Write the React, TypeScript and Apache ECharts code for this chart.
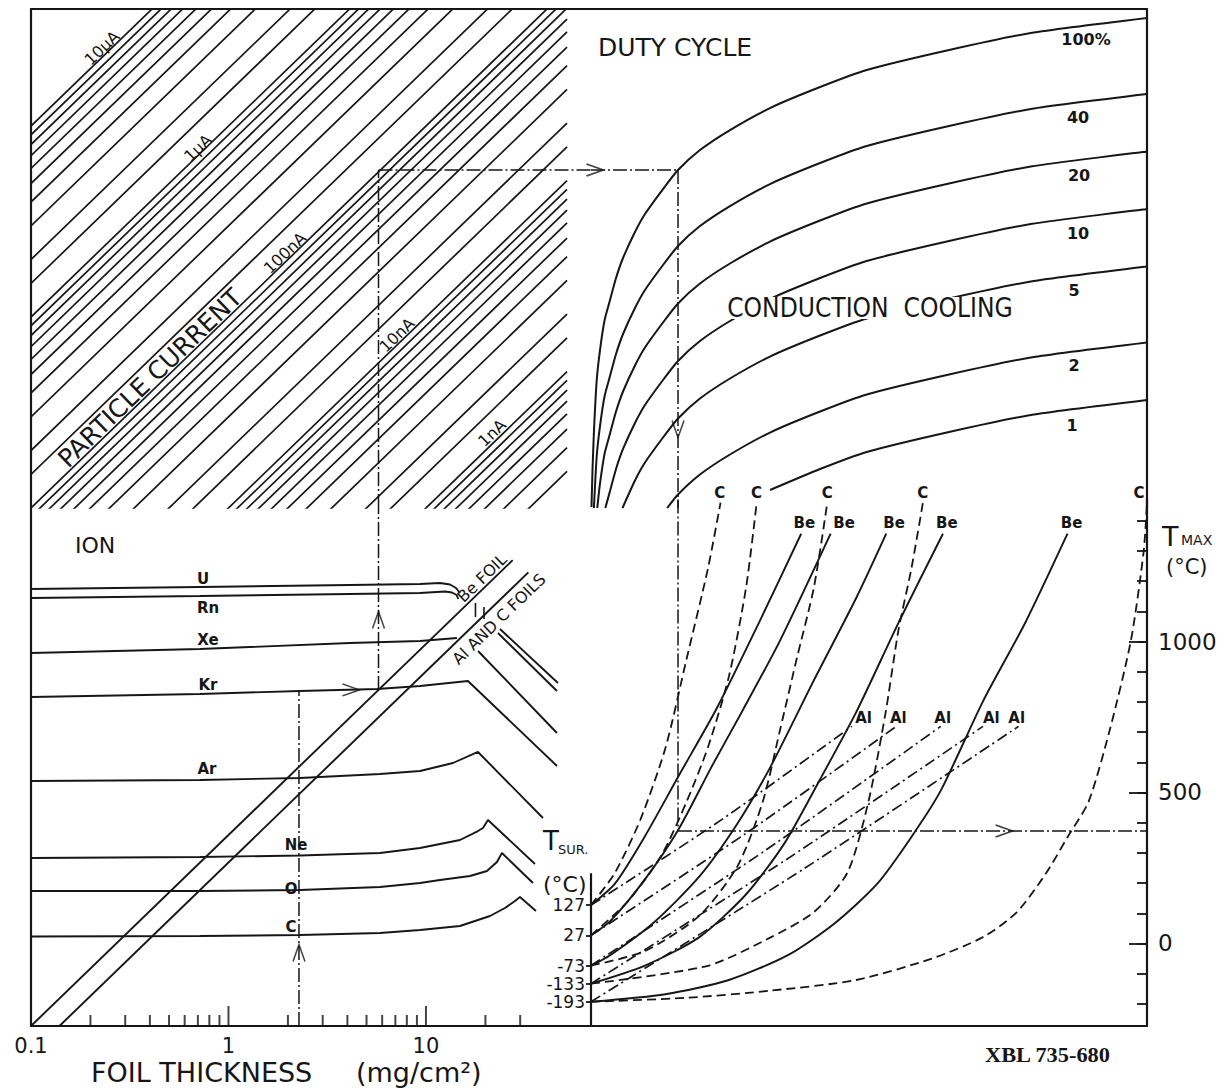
import React, { useEffect, useRef } from "react";
import * as echarts from "echarts";

const INK = "#161616";
const FONT = '"DejaVu Sans", "Noto Sans", sans-serif';

// ---------------- DATA ----------------
// Particle current lines of the top-left panel (nA)
const particleCurrentsNA = [
  10000, 9000, 8000, 7000, 6000, 5000, 4000, 3000, 2000, 1500,
  1000, 900, 800, 700, 600, 500, 400, 300, 200, 150,
  100, 90, 80, 70, 60, 50, 40, 30, 20, 15,
  10, 9, 8, 7, 6, 5, 4, 3, 2, 1.5,
  1, 0.9, 0.8, 0.7, 0.6, 0.5, 0.4, 0.3,
];

// Ion curves: [foil thickness mg/cm2, relative energy deposit]
const ionU = [[0.1, 194.1], [0.717, 198.8], [4.12, 203.6], [9.33, 206.1], [11.77, 208.6], [13.23, 204.8], [14.19, 196.4], [14.87, 184.9]];
const ionUTail = [[23.7, 119.8], [46.6, 62.5]];
const ionRn = [[0.1, 174.1], [0.717, 178.3], [4.12, 182.7], [9.33, 184.9], [12.48, 188.3], [13.54, 186.1], [14.3, 180.5], [14.57, 172.0]];
const ionRnTail = [[23.15, 114.2], [46.06, 56.74]];
const ionXe = [[0.1, 89.73], [0.717, 94.14], [4.12, 101.2], [9.33, 103.7], [14.35, 107.5]];
const ionXeTail = [[18.34, 91.92], [46.06, 34.2]];
const ionKr = [[0.1, 52.79], [0.717, 54.73], [2.3, 56.74], [5.65, 58.13], [9.33, 60.27], [16.32, 64.01], [46.06, 22.98]];
const ionAr = [[0.1, 19.18], [0.717, 19.41], [2.3, 19.88], [5.85, 20.86], [9.33, 21.63], [13.7, 23.82], [18.34, 27.2], [39.13, 12.27]];
const ionNe = [[0.1, 7.58], [0.717, 7.671], [2.3, 7.811], [5.85, 8.05], [9.33, 8.551], [14.87, 9.415], [18.34, 10.49], [19.44, 10.88], [20.6, 11.98], [35.64, 7.05]];
const ionO = [[0.1, 5.092], [0.717, 5.092], [2.3, 5.153], [5.85, 5.343], [9.33, 5.608], [11.77, 5.813], [16.71, 6.1], [20.37, 6.478], [22.88, 7.223], [24.25, 8.05], [34.82, 5.608]];
const ionC = [[0.1, 2.941], [0.717, 2.959], [2.3, 2.995], [5.85, 3.069], [9.33, 3.181], [14.87, 3.339], [21.09, 3.767], [25.12, 4.148], [28.23, 4.512], [29.92, 4.737], [36.06, 4.0]];
const ionNames = ["U", "Rn", "Xe", "Kr", "Ar", "Ne", "O", "C"];

// Foil conversion lines
const beFoilLine = [[0.1, 1], [27.5, 275]];
const alCFoilLine = [[0.1393, 1], [33, 237]];
const foilMarks1 = [[17.81, 163.9], [17.81, 138.5]];
const foilMarks2 = [[19.67, 156.2], [19.67, 135.2]];

// Duty-cycle curves: [heat load (relative), power]
const dutyLabels = ["100%", "40", "20", "10", "5", "2", "1"];
const duty100 = [[0.09, 1.012], [0.27, 1.581], [0.54, 2.561], [1.03, 4.679], [1.62, 6.718], [2.45, 9.645], [3.42, 12.27], [4.5, 16.0], [5.76, 20.37], [7.91, 27.87], [9.71, 34.62], [12.95, 46.79], [15.65, 58.85], [19.6, 74.87], [25.0, 95.3], [32.2, 124.2], [41.2, 160.0], [49.6, 196.5], [64.4, 250.0], [79.1, 306.9], [100, 367.6]];
const duty40 = [[0.52, 1.0], [1.03, 1.872], [1.62, 2.687], [2.45, 3.858], [3.42, 4.908], [4.5, 6.4], [5.76, 8.148], [7.91, 11.15], [9.71, 13.85], [12.95, 18.72], [15.65, 23.54], [19.6, 29.95], [25.0, 38.12], [32.2, 49.68], [41.2, 64.0], [49.6, 78.6], [64.4, 100.0], [79.1, 122.8], [100, 147.0]];
const duty20 = [[1.13, 1.0], [1.62, 1.344], [2.45, 1.929], [3.42, 2.454], [4.5, 3.2], [5.76, 4.074], [7.91, 5.574], [9.71, 6.924], [12.95, 9.358], [15.65, 11.77], [19.6, 14.97], [25.0, 19.06], [32.2, 24.84], [41.2, 32.0], [49.6, 39.3], [64.4, 50.0], [79.1, 61.38], [100, 73.52]];
const duty10 = [[2.58, 1.0], [3.42, 1.227], [4.5, 1.6], [5.76, 2.037], [7.91, 2.787], [9.71, 3.462], [12.95, 4.679], [15.65, 5.885], [19.6, 7.487], [25.0, 9.53], [32.2, 12.42], [41.2, 16.0], [49.6, 19.65], [64.4, 25.0], [79.1, 30.69], [100, 36.76]];
const duty5 = [[5.66, 1.0], [7.91, 1.394], [9.71, 1.731], [12.95, 2.34], [15.65, 2.943], [19.6, 3.744], [25.0, 4.765], [32.2, 6.21], [41.2, 8.0], [49.6, 9.825], [64.4, 12.5], [79.1, 15.35], [100, 18.38]];
const duty2 = [[13.7, 1.0], [15.65, 1.177], [19.6, 1.497], [25.0, 1.906], [32.2, 2.484], [41.2, 3.2], [49.6, 3.93], [64.4, 5.0], [79.1, 6.138], [100, 7.352]];
const duty1 = [[32.2, 1.242], [41.2, 1.6], [49.6, 1.965], [64.4, 2.5], [79.1, 3.069], [100, 3.676]];

// T_MAX curves: [heat load (relative), T_MAX degC], one per T_SUR (127, 27, -73, -133, -193)
const cFoil127 = [[0, 127], [4.3, 234], [8.9, 411], [13.4, 648], [17.2, 943], [21.0, 1239], [23.3, 1460]];
const cFoil27 = [[0, 27], [6.6, 139], [12.7, 293], [17.2, 470], [21.0, 648], [24.8, 884], [27.9, 1180], [29.8, 1460]];
const cFoilM73 = [[0, -73], [9.6, -26], [19.5, 92], [26.4, 258], [30.9, 470], [34.0, 707], [37.0, 943], [40.1, 1180], [42.5, 1460]];
const cFoilM133 = [[0, -133], [21.0, -74], [32.4, 21], [40.1, 104], [46.1, 234], [49.9, 470], [53.0, 766], [55.3, 1038], [57.6, 1239], [59.7, 1460]];
const cFoilM193 = [[0, -193], [17.2, -180], [32.4, -156], [47.7, -121], [61.3, -50], [70.5, 21], [76.6, 104], [81.9, 234], [85.7, 352], [89.5, 470], [93.3, 707], [97.1, 1003], [99.4, 1298], [100, 1460]];
const beFoil127 = [[0, 127], [4.3, 198], [9.6, 352], [15.7, 553], [22.6, 778], [30.2, 1062], [37.8, 1357]];
const beFoil27 = [[0, 27], [3.5, 75], [9.6, 210], [15.65, 375], [21.8, 589], [27.1, 766], [34.0, 1003], [43.1, 1357]];
const beFoilM73 = [[0, -74], [3.5, -38], [11.2, 68], [19.5, 222], [26.4, 399], [32.4, 589], [40.1, 872], [47.7, 1144], [53.1, 1357]];
const beFoilM133 = [[0, -133], [9.6, -74], [19.5, 21], [27.9, 163], [34.7, 329], [40.8, 530], [47.7, 766], [55.3, 1062], [63.3, 1357]];
const beFoilM193 = [[0, -193], [13.4, -168], [24.8, -121], [35.5, -38], [43.9, 68], [51.5, 198], [57.6, 352], [62.9, 506], [70.5, 802], [78.1, 1062], [85.7, 1357]];
const alFoil127 = [[0, 127], [23.5, 410], [46.9, 719]];
const alFoil27 = [[0, 27], [27.5, 360], [54.9, 719]];
const alFoilM73 = [[0, -73], [31.5, 310], [62.9, 719]];
const alFoilM133 = [[0, -133], [35.3, 280], [70.5, 719]];
const alFoilM193 = [[0, -193], [38.5, 250], [76.9, 719]];

// Worked example (dash-dot guide)
const guideBLUp = [[2.275, 1], [2.275, 56.74]];
const guideBLRise = [[5.75, 57.5], [5.75, 515.2]];
const guideTLRise = [[5.75, 1], [5.75, 58.85]];
const guideTLAcross = [[5.75, 58.85], [68.5, 58.85]];
const guideTRAcross = [[0, 58.85], [15.65, 58.85]];
const guideTRDown = [[15.65, 58.85], [15.65, 1]];
const guideBRDown = [[15.65, 1470], [15.65, 372.5]];
const guideBRAcross = [[15.65, 372.5], [100, 372.5]];
const arrowsBL = [[2.275, 2.41, 90], [4.17, 57.5, 0], [5.75, 133.6, 90]];
const arrowsTR = [[0.72, 58.85, 0], [15.65, 2.59, -90]];
const arrowsBR = [[74.3, 372.5, 0]];

// Axis ticks
const foilMinorTicks = [0.2, 0.3, 0.4, 0.5, 0.6, 0.7, 0.8, 0.9, 2, 3, 4, 5, 6, 7, 8, 9, 20, 30];
const foilMajorTicks = [1, 10];
const tSurTicks = [127, 27, -73, -133, -193];
const tMaxMinorTicks = [-200, -100, 0, 100, 200, 300, 400, 500, 600, 700, 800, 900, 1000, 1100, 1200, 1300, 1400];
const tMaxMajorTicks = [0, 500, 1000];

// ---------------- OPTION ----------------
function line(data: any[], xi: number, yi: number, o: any = {}) {
  return {
    type: "line",
    data,
    xAxisIndex: xi,
    yAxisIndex: yi,
    symbol: "none",
    showSymbol: false,
    silent: true,
    clip: true,
    smooth: o.smooth ?? false,
    z: o.z ?? 3,
    lineStyle: { color: INK, width: o.w ?? 1.9, type: o.dash ?? "solid" },
    emphasis: { disabled: true },
    animation: false,
  };
}

const ARROW = "path://M0,0 L20,7 L0,14";
function arrows(list: number[][], xi: number, yi: number) {
  return {
    type: "scatter",
    xAxisIndex: xi,
    yAxisIndex: yi,
    silent: true,
    symbol: ARROW,
    symbolSize: [17, 12],
    itemStyle: { color: "rgba(0,0,0,0)", borderColor: INK, borderWidth: 1.7 },
    data: list.map((a) => ({ value: [a[0], a[1]], symbolRotate: a[2] })),
    z: 6,
    animation: false,
  };
}

function ticks(list: number[], base: number, len: number) {
  return {
    type: "scatter",
    xAxisIndex: 1,
    yAxisIndex: 1,
    silent: true,
    symbol: "rect",
    symbolSize: [2, len],
    symbolOffset: [0, -len / 2],
    itemStyle: { color: INK },
    data: list.map((v) => [v, base]),
    z: 5,
    animation: false,
  };
}

const axisOff = { show: false };
const frameLine = { show: true, onZero: false, lineStyle: { color: INK, width: 2.2 } };

function buildOption() {
  const series: any[] = [];
  // hatch lines: power = current x energy loss
  particleCurrentsNA.forEach((I) => {
    series.push(line([[0.01, (I * 0.01) / 10], [51.8, (I * 51.8) / 10]], 0, 0, { w: 1.7 }));
  });
  // ions
  [ionU, ionUTail, ionRn, ionRnTail, ionXe, ionXeTail, ionKr, ionAr, ionNe, ionO, ionC].forEach((d) =>
    series.push(line(d, 1, 1, { w: 1.9 }))
  );
  series.push(line(beFoilLine, 1, 1, { w: 1.9 }));
  series.push(line(alCFoilLine, 1, 1, { w: 1.9 }));
  series.push(line(foilMarks1, 1, 1, { w: 1.6 }));
  series.push(line(foilMarks2, 1, 1, { w: 1.6 }));
  series.push(ticks(foilMinorTicks, 1, 11));
  series.push(ticks(foilMajorTicks, 1, 20));
  // duty cycle
  [duty100, duty40, duty20, duty10, duty5, duty2, duty1].forEach((d) =>
    series.push(line(d, 2, 2, { w: 2, smooth: 0.2 }))
  );
  // T_MAX curves
  const dashC = [9, 5];
  const dashAl = [11, 4, 2, 4];
  [cFoil127, cFoil27, cFoilM73, cFoilM133, cFoilM193].forEach((d) =>
    series.push(line(d, 3, 3, { w: 1.8, dash: dashC, smooth: 0.25 }))
  );
  [beFoil127, beFoil27, beFoilM73, beFoilM133, beFoilM193].forEach((d) =>
    series.push(line(d, 3, 3, { w: 1.9, smooth: 0.25 }))
  );
  [alFoil127, alFoil27, alFoilM73, alFoilM133, alFoilM193].forEach((d) =>
    series.push(line(d, 3, 3, { w: 1.7, dash: dashAl, smooth: 0.25 }))
  );
  // guide
  const dashG = [14, 3, 2, 3];
  series.push(line(guideBLUp, 1, 1, { w: 1.5, dash: dashG }));
  series.push(line(guideBLRise, 1, 1, { w: 1.5, dash: dashG }));
  series.push(line(guideTLRise, 0, 0, { w: 1.5, dash: dashG }));
  series.push(line(guideTLAcross, 0, 0, { w: 1.5, dash: dashG }));
  series.push(line(guideTRAcross, 2, 2, { w: 1.5, dash: dashG }));
  series.push(line(guideTRDown, 2, 2, { w: 1.5, dash: dashG }));
  series.push(line(guideBRDown, 3, 3, { w: 1.5, dash: dashG }));
  series.push(line(guideBRAcross, 3, 3, { w: 1.5, dash: dashG }));
  series.push(arrows(arrowsBL, 1, 1));
  series.push(arrows(arrowsTR, 2, 2));
  series.push(arrows(arrowsBR, 3, 3));

  // texts
  const g: any[] = [];
  const add = (text: string, x: number, y: number, size: number, o: any = {}) => {
    const align = o.align || "center";
    g.push({
      type: "text",
      x,
      y,
      rotation: ((o.rot || 0) * Math.PI) / 180,
      scaleX: o.sx || 1,
      z: 50,
      silent: true,
      style: {
        text,
        fill: INK,
        fontSize: size,
        fontFamily: o.family || FONT,
        fontWeight: o.weight || "normal",
        textAlign: align,
        textVerticalAlign: "middle",
        align,
        verticalAlign: "middle",
        lineHeight: o.lh,
        backgroundColor: o.bg,
        padding: o.bg ? [0, 6] : undefined,
      },
    });
  };
  add("10μA", 102, 48, 16, { rot: 44 });
  add("1μA", 198, 148, 16, { rot: 44 });
  add("100nA", 285, 253, 16, { rot: 44 });
  add("10nA", 397, 335, 16, { rot: 44 });
  add("1nA", 492, 433, 16, { rot: 44 });
  add("PARTICLE CURRENT", 150, 378, 25, { rot: 44 });
  add("DUTY CYCLE", 598, 47.5, 25, { align: "left" });
  add("CONDUCTION  COOLING", 722, 308, 27, { align: "left", sx: 0.87, bg: "#ffffff", lh: 22 });
  const dutyPos = [[1086, 39], [1078, 117], [1079, 175], [1078, 233], [1074, 290], [1074, 365], [1072, 425]];
  dutyLabels.forEach((t, i) => add(t, dutyPos[i][0], dutyPos[i][1], 16, { weight: "bold" }));
  add("ION", 75, 545, 22, { align: "left" });
  const ionPos = [[203, 579], [208, 608], [208, 640], [208, 685], [207, 769], [296, 845], [291, 889], [291, 927]];
  ionNames.forEach((t, i) => add(t, ionPos[i][0], ionPos[i][1], 15, { weight: "bold" }));
  add("Be FOIL", 482, 578, 16, { rot: 44 });
  add("Al AND C FOILS", 499, 619, 16, { rot: 44 });
  add("FOIL THICKNESS", 91, 1072, 27, { align: "left" });
  add("(mg/cm²)", 356, 1072, 27, { align: "left" });
  add("T", 543, 841, 26, { align: "left" });
  add("SUR.", 558, 849, 13, { align: "left" });
  add("(°C)", 543, 884.5, 22, { align: "left" });
  add("T", 1162, 536, 27, { align: "left" });
  add("MAX", 1181, 540, 14, { align: "left" });
  add("(°C)", 1166, 566.6, 21, { align: "left" });
  add("XBL 735-680", 985, 1055, 20, { align: "left", family: '"Liberation Serif", serif', weight: "bold", sx: 1.12 });
  [719.8, 756.6, 827.2, 922.8, 1139].forEach((x) => add("C", x, 492.5, 15, { weight: "bold" }));
  [804.4, 844.1, 894, 946.9, 1071.6].forEach((x) => add("Be", x, 523, 15, { weight: "bold" }));
  [863.6, 898.3, 942.7, 991.3, 1016.7].forEach((x) => add("Al", x, 717.5, 15, { weight: "bold" }));

  return {
    animation: false,
    backgroundColor: "#ffffff",
    grid: [
      { left: 31, top: 9, width: 560, height: 499, containLabel: false, outerBoundsMode: "none" },
      { left: 31, top: 508, width: 560, height: 518, containLabel: false, outerBoundsMode: "none" },
      { left: 591, top: 9, width: 556, height: 499, containLabel: false, outerBoundsMode: "none" },
      { left: 591, top: 499.6, width: 556, height: 526.3, containLabel: false, outerBoundsMode: "none" },
      { left: 591, top: 874, width: 10, height: 152, containLabel: false, outerBoundsMode: "none" },
    ],
    xAxis: [
      { gridIndex: 0, type: "log", logBase: 10, min: 0.1, max: 68.5, position: "top", axisLine: frameLine, axisTick: axisOff, axisLabel: axisOff, splitLine: axisOff },
      {
        gridIndex: 1, type: "log", logBase: 10, min: 0.1, max: 68.5, position: "bottom", axisLine: frameLine, axisTick: axisOff,
        axisLabel: { show: true, color: INK, fontSize: 21, fontFamily: FONT, margin: 9, showMaxLabel: false, formatter: (v: number) => (v < 0.5 ? "0.1" : String(Math.round(v))) },
        splitLine: axisOff,
      },
      { gridIndex: 2, type: "value", min: 0, max: 100, position: "top", axisLine: frameLine, axisTick: axisOff, axisLabel: axisOff, splitLine: axisOff },
      { gridIndex: 3, type: "value", min: 0, max: 100, position: "bottom", axisLine: frameLine, axisTick: axisOff, axisLabel: axisOff, splitLine: axisOff },
      { gridIndex: 4, type: "value", min: 0, max: 1, show: false },
    ],
    yAxis: [
      { gridIndex: 0, type: "log", logBase: 10, min: 1, max: 410, position: "left", axisLine: frameLine, axisTick: axisOff, axisLabel: axisOff, splitLine: axisOff },
      { gridIndex: 1, type: "log", logBase: 10, min: 1, max: 515.2, position: "left", axisLine: frameLine, axisTick: axisOff, axisLabel: axisOff, splitLine: axisOff },
      { gridIndex: 2, type: "log", logBase: 10, min: 1, max: 410, position: "right", axisLine: frameLine, axisTick: axisOff, axisLabel: axisOff, splitLine: axisOff },
      {
        gridIndex: 3, type: "value", min: -273, max: 1470, position: "right", axisLine: frameLine,
        axisTick: { show: true, inside: true, length: 10, customValues: tMaxMinorTicks, lineStyle: { color: INK, width: 1.8 } },
        axisLabel: { show: true, inside: false, margin: 11, color: INK, fontSize: 23, fontFamily: FONT, customValues: tMaxMajorTicks, formatter: (v: number) => String(v) },
        splitLine: axisOff,
      },
      {
        gridIndex: 3, type: "value", min: -273, max: 1470, position: "right", axisLine: { show: false, onZero: false },
        axisTick: { show: true, inside: true, length: 18, customValues: tMaxMajorTicks, lineStyle: { color: INK, width: 1.8 } },
        axisLabel: axisOff, splitLine: axisOff,
      },
      {
        gridIndex: 4, type: "value", min: -273, max: 230, position: "left", axisLine: frameLine,
        axisTick: { show: true, inside: false, length: 5, customValues: tSurTicks, lineStyle: { color: INK, width: 1.8 } },
        axisLabel: { show: true, margin: 6, color: INK, fontSize: 17, fontFamily: FONT, customValues: tSurTicks, formatter: (v: number) => String(v) },
        splitLine: axisOff,
      },
    ],
    series,
    graphic: { elements: g },
  };
}

export default function App() {
  const ref = useRef<HTMLDivElement>(null);
  useEffect(() => {
    document.body.style.margin = "0";
    const chart = echarts.init(ref.current as HTMLDivElement, null, { renderer: "svg" });
    chart.setOption(buildOption() as any);
    return () => {
      chart.dispose();
    };
  }, []);
  return <div ref={ref} style={{ width: 1223, height: 1089, background: "#ffffff" }} />;
}
